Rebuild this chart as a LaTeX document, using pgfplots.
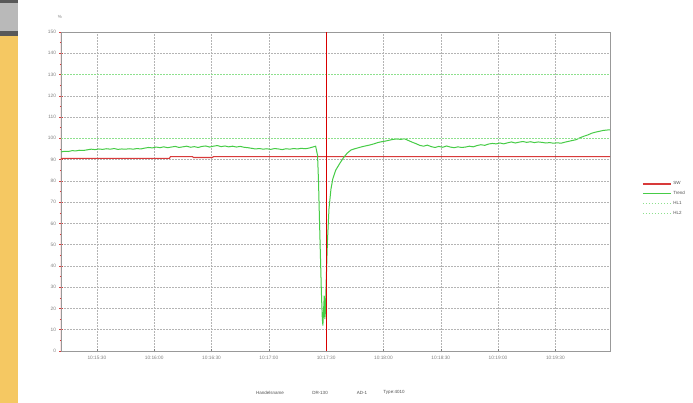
\documentclass[border=0pt]{standalone}
\usepackage{fontspec}
\setmainfont{Liberation Sans}
\usepackage{pgfplots}
\pgfplotsset{compat=1.18}
\definecolor{trendgreen}{HTML}{46CC46}
\definecolor{limgreen}{HTML}{8EE08E}
\definecolor{swred}{HTML}{D83A3A}
\definecolor{sidebar}{HTML}{F5C862}
\definecolor{gridgray}{HTML}{B4B4B4}
\definecolor{lbl}{HTML}{808080}
\definecolor{ltxt}{HTML}{505050}
\begin{document}
\begin{tikzpicture}[x=1pt,y=1pt]
\useasboundingbox (0,0) rectangle (693,403);
\clip (0,0) rectangle (693,403);
\fill[white] (0,0) rectangle (693,403);
\fill[sidebar] (0,0) rectangle (18,367);
\fill[gray!55] (0,367) rectangle (18,403);
\fill[black!65] (0,400) rectangle (18,403);
\fill[black!65] (0,367) rectangle (18,371.5);
\begin{axis}[
  scale only axis, width=549pt, height=319pt,
  at={(61pt,52pt)}, anchor=south west,
  xmin=11.2, xmax=298.6, ymin=0, ymax=150,
  ytick={0,10,...,150},
  xtick={30,60,...,270},
  xticklabels={10:15:30,10:16:00,10:16:30,10:17:00,10:17:30,10:18:00,10:18:30,10:19:00,10:19:30},
  minor y tick num=1,
  ytick pos=left, xtick pos=bottom,
  tick align=center,
  major tick length=3pt, minor tick length=2pt,
  ytick style={swred, line width=0.5pt},
  xtick style={gray, line width=0.5pt},
  axis line style={gray!80, line width=0.8pt},
  grid=major,
  major grid style={gridgray, dash pattern=on 1.5pt off 1.5pt, line width=0.5pt},
  ticklabel style={font=\fontsize{4.8}{5}\selectfont, text=lbl},
  /pgf/number format/assume math mode=true,
  legend style={at={(1.0583,0.5376)}, anchor=north west, draw=none, fill=none,
    font=\fontsize{4.5}{5}\selectfont, inner sep=0pt, row sep=1.2pt},
  legend cell align=left,
  legend image code/.code={\draw[#1] (0pt,0pt) -- (28pt,0pt);},
]
% setpoint (SW)
\addplot[swred, line width=1.1pt] coordinates {
 (11.2,90.6) (68,90.6) (68.5,91.4) (80,91.4) (80.5,91.0) (90.5,91.0) (91,91.4) (298.6,91.4)};
\addlegendentry{\textcolor{ltxt}{SW}}
% trend
\addplot[trendgreen, line width=1pt] coordinates {
 (11.2,93.6) (13,93.9) (15,93.8) (17,94.2) (19,94.1) (21,94.4) (23,94.3) (25,94.6) (27,94.9) (29,94.7)
 (31,95.0) (33,94.8) (35,95.1) (37,94.9) (39,95.2) (41,94.8) (43,95.0) (45,94.9) (47,95.1) (49,94.9)
 (51,95.2) (53,95.0) (55,95.4) (57,95.7) (59,95.5) (61,95.9) (63,95.6) (65,96.0) (67,95.6) (69,95.9)
 (71,96.2) (73,95.7) (75,96.0) (77,96.3) (79,95.8) (81,96.1) (83,95.7) (85,96.2) (87,96.4) (89,95.9)
 (91,96.3) (93,96.6) (95,96.1) (97,96.4) (99,96.0) (101,96.3) (103,95.9) (105,96.2) (107,95.8) (109,95.6)
 (111,95.3) (113,95.0) (115,95.2) (117,94.9) (119,95.1) (121,94.8) (123,95.2) (125,95.0) (127,94.7) (129,95.1)
 (131,94.9) (133,95.2) (135,95.0) (137,95.3) (139,95.1) (141,95.4) (143,95.9) (144.5,96.3)
 (145.5,92.0) (146,80) (146.5,62) (147,45) (147.5,28) (148,15) (148.3,12) (148.7,20) (149,26) (149.3,15)
 (149.6,18) (150,32) (150.7,52) (151.5,67) (152.5,76) (153.5,81) (155,85) (157,88) (159,90.8) (161,93.0)
 (163,94.5) (165,95.1) (167,95.6) (169,96.1) (171,96.5) (173,96.9) (175,97.4) (177,98.0) (179,98.4) (181,98.7)
 (183,99.1) (185,99.5) (187,99.7) (189,99.5) (191,99.8) (193,99.0) (195,98.2) (197,97.5) (199,96.7) (201,96.3)
 (203,96.8) (205,96.1) (207,95.7) (209,96.2) (211,95.8) (213,96.4) (215,95.9) (217,95.6) (219,96.0) (221,95.7)
 (223,95.9) (225,96.3) (227,96.0) (229,96.6) (231,97.0) (233,96.7) (235,97.3) (237,97.6) (239,97.4) (241,97.8)
 (243,97.4) (245,97.9) (247,98.3) (249,97.8) (251,98.2) (253,98.5) (255,98.1) (257,98.4) (259,98.0) (261,98.3)
 (263,98.1) (265,97.8) (267,98.0) (269,97.7) (271,97.9) (273,97.7) (275,98.2) (277,98.6) (279,99.0) (281,99.4)
 (283,100.3) (285,101.0) (287,101.6) (289,102.4) (291,102.9) (293,103.3) (295,103.7) (297,103.9) (298.6,104.0)};
\addlegendentry{\textcolor{ltxt}{Trend}}
% limits
\addplot[limgreen, line width=0.9pt, dash pattern=on 1.5pt off 1.5pt] coordinates {(11.2,130) (298.6,130)};
\addlegendentry{\textcolor{ltxt}{HL1}}
\addplot[limgreen, line width=0.9pt, dash pattern=on 1.5pt off 1.5pt] coordinates {(11.2,100) (298.6,100)};
\addlegendentry{\textcolor{ltxt}{HL2}}
% cursor
\addplot[red!85!black, line width=1pt, forget plot] coordinates {(150,0) (150,150)};
\draw[swred, line width=1pt] (rel axis cs:0,0) -- (rel axis cs:0,1);
\end{axis}
\node[font=\fontsize{4.5}{5}\selectfont, text=lbl] at (60,386) {\%};
\node[font=\fontsize{4.5}{5}\selectfont, text=ltxt] at (270,10.3) {Handelsname};
\node[font=\fontsize{4.5}{5}\selectfont, text=ltxt] at (320,10.3) {DR-130};
\node[font=\fontsize{4.5}{5}\selectfont, text=ltxt] at (362,10.3) {AD-1};
\node[font=\fontsize{4.5}{5}\selectfont, text=ltxt] at (394,10.3) {Type:4010};
\end{tikzpicture}
\end{document}
